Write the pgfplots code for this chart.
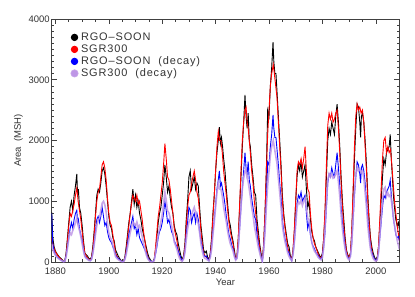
\documentclass[border=0pt]{standalone}
\usepackage{fontspec}
\setmainfont{Liberation Sans}
\newfontfamily\legfont[LetterSpace=8]{Liberation Sans}
\usepackage{pgfplots}
\pgfplotsset{compat=1.18}
\definecolor{lav}{RGB}{190,150,230}
\begin{document}
\begin{tikzpicture}
\path[use as bounding box] (-51.7bp,-35bp) rectangle (363.3bp,262bp);
\begin{axis}[at={(0bp,0bp)}, anchor=south west, scale only axis,
  width=347.6bp, height=243bp,
  xmin=1878.6, xmax=2008.8, ymin=0, ymax=4000,
  xtick={1880,1900,...,2000}, minor x tick num=3,
  ytick={0,1000,...,4000}, minor y tick num=9,
  tick pos=both, tick align=inside,
  major tick length=5bp, minor tick length=2.7bp,
  every tick/.style={black!75, line width=0.6bp},
  axis line style={black!75, line width=0.8bp},
  /pgf/number format/assume math mode=true,
  /pgf/number format/set thousands separator={},
  ticklabel style={font=\fontsize{9.5}{11}\selectfont, text=black!80},
  xticklabel style={yshift=-2bp},
  yticklabel style={xshift=1.5bp},
  label style={font=\fontsize{9.5}{11}\selectfont, text=black!80},
  xlabel={Year}, ylabel={Area\ \ (MSH)},
  xlabel style={yshift=2bp},
  ylabel style={yshift=-1bp},
  legend style={at={(0.045,0.958)}, anchor=north west, draw=none, fill=none,
    font=\legfont\fontsize{11}{12}\selectfont, text=black!80,
    nodes={inner xsep=2.5bp, inner ysep=0.25bp, text height=9bp, text depth=2.5bp},
    row sep=0bp},
  legend cell align=left,
  legend image code/.code={\fill (0bp,0bp) circle (3.2bp);},
]
\addplot[color=black, line width=0.9bp] coordinates {
(1878.6,820) (1879.0,400) (1879.5,250) (1880.0,180) (1880.5,140) (1881.0,110) (1881.5,80) (1882.0,60) (1882.5,40) (1883.0,10) (1883.5,20)
(1884.0,150) (1884.5,400) (1885.0,650) (1885.5,900) (1886.0,1000) (1886.5,850) (1887.0,1100) (1887.5,1250) (1888.0,1450) (1888.3,1100) (1888.6,1200)
(1889.0,900) (1889.5,800) (1890.0,600) (1890.5,350) (1891.0,150) (1891.5,120) (1892.0,100) (1892.5,60) (1893.0,50) (1893.5,80)
(1894.0,250) (1894.5,500) (1895.0,800) (1895.5,1100) (1896.0,1200) (1896.5,1150) (1897.0,1300) (1897.5,1500) (1898.0,1550) (1898.5,1450)
(1899.0,1250) (1899.5,1000) (1900.0,750) (1900.5,600) (1901.0,550) (1901.5,400) (1902.0,350) (1902.5,200) (1903.0,150) (1903.5,100)
(1904.0,60) (1904.5,30) (1905.0,10) (1905.5,10) (1906.0,80) (1906.5,250) (1907.0,450) (1907.5,650) (1908.0,800) (1908.5,1000)
(1909.0,1200) (1909.5,950) (1910.0,1100) (1910.5,900) (1911.0,1000) (1911.5,800) (1912.0,700) (1912.5,550) (1913.0,450) (1913.5,350)
(1914.0,250) (1914.5,150) (1915.0,80) (1915.5,40) (1916.0,10) (1916.5,5) (1917.0,50) (1917.5,200) (1918.0,400) (1918.5,650)
(1919.0,800) (1919.5,900) (1920.0,1100) (1920.5,1300) (1921.0,1600) (1921.5,1400) (1922.0,1150) (1922.5,1250) (1923.0,1050) (1923.5,900)
(1924.0,800) (1924.5,600) (1925.0,500) (1925.5,450) (1926.0,300) (1926.5,200) (1927.0,100) (1927.5,40) (1928.0,100) (1928.5,300)
(1929.0,700) (1929.5,1000) (1930.0,1400) (1930.5,1500) (1931.0,1200) (1931.5,1300) (1932.0,1400) (1932.5,1200) (1933.0,1300) (1933.5,1250)
(1934.0,900) (1934.5,600) (1935.0,400) (1935.5,200) (1936.0,150) (1936.5,180) (1937.0,80) (1937.5,40) (1938.0,150) (1938.5,400)
(1939.0,800) (1939.5,1100) (1940.0,1500) (1940.5,1800) (1941.0,2000) (1941.4,2220) (1941.8,1950) (1942.2,2050) (1942.6,1900) (1943.0,1700)
(1943.5,1500) (1944.0,1200) (1944.5,950) (1945.0,700) (1945.5,600) (1946.0,450) (1946.5,350) (1947.0,200) (1947.5,60) (1948.0,100)
(1948.5,400) (1949.0,900) (1949.5,1400) (1950.0,1900) (1950.5,2300) (1951.0,2750) (1951.4,2400) (1951.8,2200) (1952.2,2450) (1952.6,2000)
(1953.0,1900) (1953.5,1600) (1954.0,1400) (1954.5,1150) (1955.0,1100) (1955.5,700) (1956.0,500) (1956.5,300) (1957.0,150) (1957.5,20)
(1958.0,300) (1958.5,800) (1959.0,1500) (1959.5,2500) (1960.0,2400) (1960.5,2900) (1961.0,3200) (1961.5,3620) (1961.8,3300) (1962.2,3100)
(1962.6,3100) (1963.0,2800) (1963.5,2400) (1964.0,2000) (1964.5,1600) (1965.0,1100) (1965.5,800) (1966.0,600) (1966.5,450) (1967.0,300)
(1967.5,250) (1968.0,100) (1968.5,40) (1969.0,200) (1969.5,500) (1970.0,1000) (1970.5,1400) (1971.0,1600) (1971.5,1500) (1972.0,1650)
(1972.5,1400) (1973.0,1500) (1973.5,1600) (1974.0,1200) (1974.5,900) (1975.0,1000) (1975.5,700) (1976.0,500) (1976.5,400) (1977.0,350)
(1977.5,250) (1978.0,200) (1978.5,150) (1979.0,100) (1979.5,80) (1980.0,150) (1980.5,400) (1981.0,800) (1981.5,1400) (1982.0,2000)
(1982.5,2200) (1983.0,2100) (1983.5,2300) (1984.0,2200) (1984.5,2100) (1985.0,2400) (1985.5,2600) (1986.0,2300) (1986.5,1900) (1987.0,1400)
(1987.5,1000) (1988.0,700) (1988.5,400) (1989.0,200) (1989.5,120) (1990.0,80) (1990.5,150) (1991.0,500) (1991.5,1100) (1992.0,1700)
(1992.5,2200) (1993.0,2600) (1993.5,2550) (1994.0,2300) (1994.3,2050) (1994.6,2400) (1995.0,2450) (1995.5,2300) (1996.0,2000) (1996.5,1600)
(1997.0,1100) (1997.5,700) (1998.0,400) (1998.5,250) (1999.0,150) (1999.5,80) (2000.0,40) (2000.5,60) (2001.0,250) (2001.5,600)
(2002.0,1000) (2002.5,1400) (2003.0,1700) (2003.5,1600) (2004.0,1800) (2004.5,1850) (2005.0,1900) (2005.4,2100) (2005.8,1700) (2006.2,1400)
(2006.6,1100) (2007.0,900) (2007.5,700) (2008.0,600) (2008.5,650) (2008.8,550)
};
\addlegendentry{RGO–SOON}
\addplot[color=red, line width=0.9bp] coordinates {
(1878.6,400) (1879.0,300) (1879.5,220) (1880.0,170) (1880.5,130) (1881.0,100) (1881.5,70) (1882.0,50) (1882.5,30) (1883.0,5) (1883.5,10)
(1884.0,120) (1884.5,350) (1885.0,600) (1885.5,800) (1886.0,750) (1886.5,850) (1887.0,950) (1887.5,1100) (1888.0,1220) (1888.5,1000)
(1889.0,850) (1889.5,700) (1890.0,500) (1890.5,300) (1891.0,150) (1891.5,100) (1892.0,70) (1892.5,40) (1893.0,30) (1893.5,60)
(1894.0,200) (1894.5,450) (1895.0,750) (1895.5,1000) (1896.0,1150) (1896.5,1200) (1897.0,1400) (1897.5,1600) (1898.0,1650) (1898.5,1550)
(1899.0,1350) (1899.5,1050) (1900.0,800) (1900.5,650) (1901.0,600) (1901.5,450) (1902.0,300) (1902.5,150) (1903.0,100) (1903.5,60)
(1904.0,40) (1904.5,20) (1905.0,5) (1905.5,5) (1906.0,60) (1906.5,200) (1907.0,400) (1907.5,600) (1908.0,800) (1908.5,950)
(1909.0,1100) (1909.5,1050) (1910.0,1000) (1910.5,1100) (1911.0,950) (1911.5,1000) (1912.0,850) (1912.5,700) (1913.0,500) (1913.5,350)
(1914.0,200) (1914.5,100) (1915.0,40) (1915.5,10) (1916.0,5) (1916.5,5) (1917.0,30) (1917.5,250) (1918.0,500) (1918.5,750)
(1919.0,900) (1919.5,1100) (1920.0,1300) (1920.5,1600) (1921.0,1950) (1921.5,1700) (1922.0,1400) (1922.5,1350) (1923.0,1200) (1923.5,1000)
(1924.0,800) (1924.5,550) (1925.0,450) (1925.5,350) (1926.0,200) (1926.5,100) (1927.0,40) (1927.5,20) (1928.0,80) (1928.5,250)
(1929.0,600) (1929.5,900) (1930.0,1100) (1930.5,1150) (1931.0,1300) (1931.5,1400) (1932.0,1500) (1932.5,1350) (1933.0,1150) (1933.5,1050)
(1934.0,800) (1934.5,500) (1935.0,300) (1935.5,150) (1936.0,100) (1936.5,80) (1937.0,50) (1937.5,30) (1938.0,120) (1938.5,350)
(1939.0,750) (1939.5,1100) (1940.0,1500) (1940.5,1900) (1941.0,2150) (1941.5,2000) (1942.0,2000) (1942.5,1800) (1943.0,1500) (1943.5,1300)
(1944.0,1100) (1944.5,850) (1945.0,650) (1945.5,500) (1946.0,400) (1946.5,300) (1947.0,150) (1947.5,50) (1948.0,100) (1948.5,400)
(1949.0,950) (1949.5,1500) (1950.0,2000) (1950.5,2300) (1951.0,2500) (1951.4,2550) (1951.8,2300) (1952.2,2200) (1952.6,2000) (1953.0,1800)
(1953.5,1500) (1954.0,1300) (1954.5,1000) (1955.0,800) (1955.5,600) (1956.0,400) (1956.5,250) (1957.0,100) (1957.5,10) (1958.0,300)
(1958.5,800) (1959.0,1500) (1959.5,2100) (1960.0,2500) (1960.5,2900) (1961.0,3100) (1961.6,3250) (1962.0,3100) (1962.5,2900) (1963.0,2700)
(1963.5,2300) (1964.0,1900) (1964.5,1500) (1965.0,1000) (1965.5,750) (1966.0,550) (1966.5,400) (1967.0,250) (1967.5,150) (1968.0,80)
(1968.5,30) (1969.0,200) (1969.5,550) (1970.0,1000) (1970.5,1500) (1971.0,1650) (1971.5,1600) (1972.0,1700) (1972.5,1550) (1973.0,1700)
(1973.5,1900) (1974.0,1500) (1974.5,1200) (1975.0,1150) (1975.5,800) (1976.0,550) (1976.5,400) (1977.0,300) (1977.5,250) (1978.0,180)
(1978.5,120) (1979.0,80) (1979.5,60) (1980.0,120) (1980.5,400) (1981.0,900) (1981.5,1600) (1982.0,2250) (1982.5,2450) (1983.0,2350)
(1983.5,2450) (1984.0,2300) (1984.5,2350) (1985.0,2450) (1985.5,2500) (1986.0,2200) (1986.5,1800) (1987.0,1300) (1987.5,900) (1988.0,600)
(1988.5,350) (1989.0,180) (1989.5,100) (1990.0,60) (1990.5,150) (1991.0,500) (1991.5,1200) (1992.0,1900) (1992.5,2400) (1993.0,2600)
(1993.5,2500) (1994.0,2550) (1994.5,2450) (1995.0,2500) (1995.5,2300) (1996.0,1900) (1996.5,1500) (1997.0,1000) (1997.5,650) (1998.0,350)
(1998.5,200) (1999.0,100) (1999.5,50) (2000.0,20) (2000.5,50) (2001.0,250) (2001.5,700) (2002.0,1200) (2002.5,1700) (2003.0,2000)
(2003.5,2050) (2004.0,1800) (2004.5,1900) (2005.0,1800) (2005.5,1850) (2006.0,1600) (2006.5,1300) (2007.0,1000) (2007.5,800) (2008.0,600)
(2008.5,450) (2008.8,350)
};
\addlegendentry{SGR300}
\addplot[color=blue, line width=0.9bp] coordinates {
(1878.6,800) (1879.0,300) (1879.5,180) (1880.0,120) (1880.5,90) (1881.0,70) (1881.5,50) (1882.0,35) (1882.5,20) (1883.0,5) (1883.5,10)
(1884.0,100) (1884.5,250) (1885.0,400) (1885.5,550) (1886.0,650) (1886.5,550) (1887.0,700) (1887.5,800) (1888.0,850) (1888.3,650) (1888.6,700)
(1889.0,550) (1889.5,450) (1890.0,350) (1890.5,200) (1891.0,100) (1891.5,70) (1892.0,50) (1892.5,30) (1893.0,20) (1893.5,40)
(1894.0,150) (1894.5,300) (1895.0,500) (1895.5,700) (1896.0,750) (1896.5,650) (1897.0,750) (1897.5,900) (1898.0,750) (1898.5,600)
(1899.0,650) (1899.5,500) (1900.0,400) (1900.5,350) (1901.0,320) (1901.5,250) (1902.0,200) (1902.5,120) (1903.0,80) (1903.5,60)
(1904.0,40) (1904.5,20) (1905.0,5) (1905.5,5) (1906.0,50) (1906.5,150) (1907.0,300) (1907.5,450) (1908.0,550) (1908.5,650)
(1909.0,750) (1909.5,550) (1910.0,600) (1910.5,450) (1911.0,550) (1911.5,400) (1912.0,350) (1912.5,300) (1913.0,250) (1913.5,200)
(1914.0,150) (1914.5,80) (1915.0,40) (1915.5,20) (1916.0,5) (1916.5,5) (1917.0,30) (1917.5,130) (1918.0,250) (1918.5,400)
(1919.0,500) (1919.5,550) (1920.0,650) (1920.5,800) (1921.0,1000) (1921.5,850) (1922.0,650) (1922.5,700) (1923.0,600) (1923.5,500)
(1924.0,450) (1924.5,350) (1925.0,300) (1925.5,250) (1926.0,180) (1926.5,120) (1927.0,60) (1927.5,20) (1928.0,60) (1928.5,180)
(1929.0,450) (1929.5,650) (1930.0,900) (1930.5,850) (1931.0,650) (1931.5,750) (1932.0,800) (1932.5,650) (1933.0,800) (1933.5,700)
(1934.0,500) (1934.5,350) (1935.0,250) (1935.5,120) (1936.0,90) (1936.5,100) (1937.0,50) (1937.5,20) (1938.0,90) (1938.5,250)
(1939.0,500) (1939.5,700) (1940.0,950) (1940.5,1200) (1941.0,1350) (1941.4,1500) (1941.8,1250) (1942.2,1300) (1942.6,1200) (1943.0,1100)
(1943.5,950) (1944.0,750) (1944.5,600) (1945.0,450) (1945.5,380) (1946.0,280) (1946.5,220) (1947.0,120) (1947.5,40) (1948.0,60)
(1948.5,250) (1949.0,550) (1949.5,900) (1950.0,1200) (1950.5,1500) (1951.0,1800) (1951.4,1550) (1951.8,1450) (1952.2,1650) (1952.6,1350)
(1953.0,1250) (1953.5,1050) (1954.0,900) (1954.5,750) (1955.0,700) (1955.5,450) (1956.0,300) (1956.5,180) (1957.0,90) (1957.5,10)
(1958.0,200) (1958.5,550) (1959.0,1000) (1959.5,1650) (1960.0,1600) (1960.5,1900) (1961.0,2100) (1961.5,2420) (1961.8,2200) (1962.2,2050)
(1962.6,2050) (1963.0,1850) (1963.5,1600) (1964.0,1300) (1964.5,1050) (1965.0,700) (1965.5,500) (1966.0,380) (1966.5,280) (1967.0,180)
(1967.5,150) (1968.0,60) (1968.5,20) (1969.0,130) (1969.5,330) (1970.0,650) (1970.5,950) (1971.0,1100) (1971.5,1050) (1972.0,1150)
(1972.5,1000) (1973.0,1050) (1973.5,1100) (1974.0,800) (1974.5,550) (1975.0,650) (1975.5,450) (1976.0,320) (1976.5,260) (1977.0,220)
(1977.5,160) (1978.0,130) (1978.5,100) (1979.0,60) (1979.5,50) (1980.0,100) (1980.5,260) (1981.0,500) (1981.5,900) (1982.0,1300)
(1982.5,1450) (1983.0,1400) (1983.5,1550) (1984.0,1450) (1984.5,1400) (1985.0,1600) (1985.5,1800) (1986.0,1550) (1986.5,1250) (1987.0,900)
(1987.5,650) (1988.0,450) (1988.5,250) (1989.0,130) (1989.5,80) (1990.0,50) (1990.5,100) (1991.0,320) (1991.5,700) (1992.0,1100)
(1992.5,1400) (1993.0,1650) (1993.5,1600) (1994.0,1450) (1994.3,1300) (1994.6,1550) (1995.0,1600) (1995.5,1500) (1996.0,1300) (1996.5,1000)
(1997.0,700) (1997.5,450) (1998.0,250) (1998.5,160) (1999.0,100) (1999.5,50) (2000.0,25) (2000.5,40) (2001.0,160) (2001.5,400)
(2002.0,650) (2002.5,900) (2003.0,1100) (2003.5,1050) (2004.0,1150) (2004.5,1200) (2005.0,1250) (2005.4,1350) (2005.8,1100) (2006.2,900)
(2006.6,700) (2007.0,600) (2007.5,450) (2008.0,400) (2008.5,420) (2008.8,350)
};
\addlegendentry{RGO–SOON\ \ (decay)}
\addplot[color=lav, line width=1.6bp, draw opacity=0.85] coordinates {
(1878.6,300) (1879.0,200) (1879.5,150) (1880.0,110) (1880.5,80) (1881.0,60) (1881.5,45) (1882.0,30) (1882.5,20) (1883.0,5) (1883.5,10)
(1884.0,80) (1884.5,220) (1885.0,380) (1885.5,480) (1886.0,450) (1886.5,520) (1887.0,580) (1887.5,650) (1888.0,720) (1888.5,600)
(1889.0,520) (1889.5,420) (1890.0,300) (1890.5,180) (1891.0,90) (1891.5,60) (1892.0,45) (1892.5,25) (1893.0,20) (1893.5,40)
(1894.0,130) (1894.5,280) (1895.0,450) (1895.5,600) (1896.0,700) (1896.5,720) (1897.0,850) (1897.5,970) (1898.0,1000) (1898.5,940)
(1899.0,820) (1899.5,640) (1900.0,480) (1900.5,400) (1901.0,370) (1901.5,280) (1902.0,180) (1902.5,90) (1903.0,60) (1903.5,40)
(1904.0,25) (1904.5,12) (1905.0,5) (1905.5,5) (1906.0,40) (1906.5,120) (1907.0,240) (1907.5,360) (1908.0,480) (1908.5,570)
(1909.0,660) (1909.5,630) (1910.0,600) (1910.5,660) (1911.0,570) (1911.5,600) (1912.0,510) (1912.5,420) (1913.0,300) (1913.5,210)
(1914.0,120) (1914.5,60) (1915.0,25) (1915.5,8) (1916.0,5) (1916.5,5) (1917.0,20) (1917.5,150) (1918.0,300) (1918.5,450)
(1919.0,550) (1919.5,660) (1920.0,780) (1920.5,960) (1921.0,1150) (1921.5,1020) (1922.0,840) (1922.5,810) (1923.0,720) (1923.5,600)
(1924.0,480) (1924.5,330) (1925.0,270) (1925.5,210) (1926.0,120) (1926.5,60) (1927.0,25) (1927.5,12) (1928.0,50) (1928.5,150)
(1929.0,360) (1929.5,540) (1930.0,660) (1930.5,700) (1931.0,780) (1931.5,840) (1932.0,900) (1932.5,810) (1933.0,700) (1933.5,630)
(1934.0,480) (1934.5,300) (1935.0,180) (1935.5,90) (1936.0,60) (1936.5,50) (1937.0,30) (1937.5,20) (1938.0,70) (1938.5,210)
(1939.0,450) (1939.5,660) (1940.0,900) (1940.5,1140) (1941.0,1300) (1941.5,1200) (1942.0,1200) (1942.5,1080) (1943.0,900) (1943.5,780)
(1944.0,660) (1944.5,510) (1945.0,390) (1945.5,300) (1946.0,240) (1946.5,180) (1947.0,90) (1947.5,30) (1948.0,60) (1948.5,240)
(1949.0,570) (1949.5,900) (1950.0,1200) (1950.5,1380) (1951.0,1500) (1951.4,1530) (1951.8,1380) (1952.2,1320) (1952.6,1200) (1953.0,1080)
(1953.5,900) (1954.0,780) (1954.5,600) (1955.0,480) (1955.5,360) (1956.0,240) (1956.5,150) (1957.0,60) (1957.5,8) (1958.0,180)
(1958.5,480) (1959.0,900) (1959.5,1260) (1960.0,1500) (1960.5,1750) (1961.0,1900) (1961.6,2000) (1962.0,1880) (1962.5,1750) (1963.0,1620)
(1963.5,1380) (1964.0,1140) (1964.5,900) (1965.0,600) (1965.5,450) (1966.0,330) (1966.5,240) (1967.0,150) (1967.5,90) (1968.0,50)
(1968.5,20) (1969.0,120) (1969.5,330) (1970.0,600) (1970.5,900) (1971.0,990) (1971.5,960) (1972.0,1020) (1972.5,930) (1973.0,1000)
(1973.5,1050) (1974.0,900) (1974.5,720) (1975.0,700) (1975.5,480) (1976.0,330) (1976.5,240) (1977.0,180) (1977.5,150) (1978.0,110)
(1978.5,70) (1979.0,50) (1979.5,35) (1980.0,70) (1980.5,240) (1981.0,540) (1981.5,960) (1982.0,1350) (1982.5,1450) (1983.0,1400)
(1983.5,1450) (1984.0,1380) (1984.5,1400) (1985.0,1450) (1985.5,1500) (1986.0,1320) (1986.5,1080) (1987.0,780) (1987.5,540) (1988.0,360)
(1988.5,210) (1989.0,110) (1989.5,60) (1990.0,35) (1990.5,90) (1991.0,300) (1991.5,720) (1992.0,1140) (1992.5,1440) (1993.0,1560)
(1993.5,1500) (1994.0,1530) (1994.5,1470) (1995.0,1500) (1995.5,1380) (1996.0,1140) (1996.5,900) (1997.0,600) (1997.5,390) (1998.0,210)
(1998.5,120) (1999.0,60) (1999.5,30) (2000.0,12) (2000.5,30) (2001.0,150) (2001.5,420) (2002.0,720) (2002.5,1020) (2003.0,1200)
(2003.5,1230) (2004.0,1080) (2004.5,1140) (2005.0,1080) (2005.5,1110) (2006.0,960) (2006.5,780) (2007.0,600) (2007.5,480) (2008.0,360)
(2008.5,270) (2008.8,210)
};
\addlegendentry{SGR300\ \ (decay)}
\end{axis}
\end{tikzpicture}
\end{document}
